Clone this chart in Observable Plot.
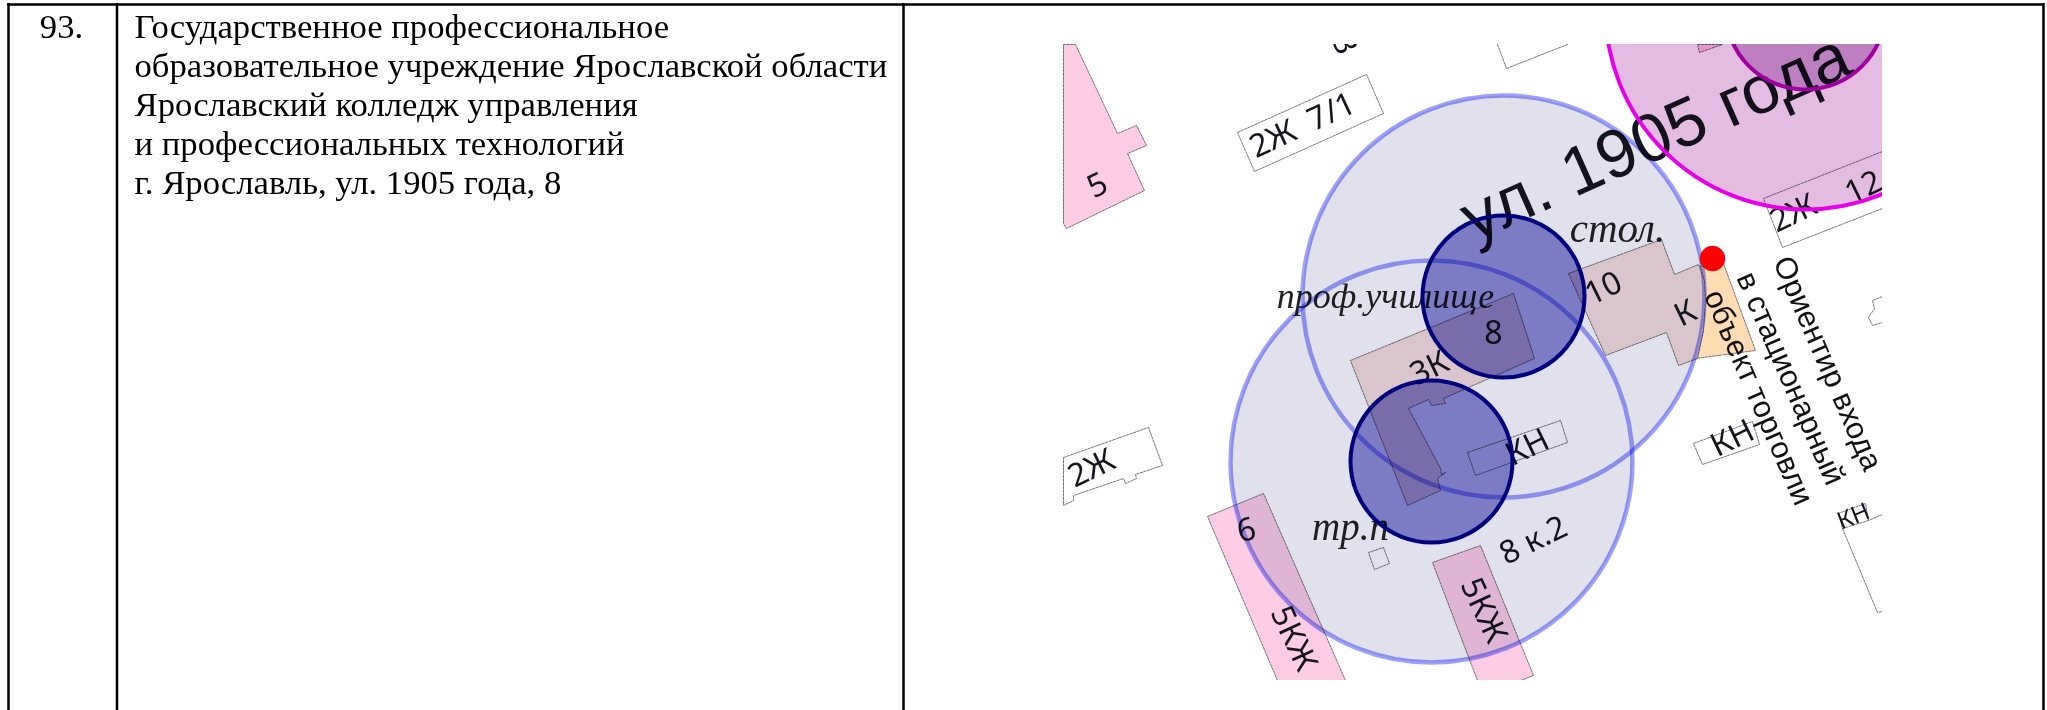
<!DOCTYPE html>
<html lang="ru">
<head>
<meta charset="utf-8">
<style>html,body{margin:0;padding:0;background:#fff;overflow:hidden}svg{display:block}</style>
<script src="https://cdn.jsdelivr.net/npm/d3@7"></script>
<script src="https://cdn.jsdelivr.net/npm/@observablehq/plot@0.6"></script>
</head>
<body>
<script>
// table
const tableColumnsX = [8, 116.5, 903, 2043];
const tableTopY = [4];
const rowNumber = [{x: 61, y: 26, t: "93."}];
const descriptionLines = [
  {x: 134, y: 26, t: "Государственное профессиональное"},
  {x: 134, y: 65, t: "образовательное учреждение Ярославской области"},
  {x: 134, y: 104, t: "Ярославский колледж управления"},
  {x: 134, y: 143, t: "и профессиональных технологий"},
  {x: 134, y: 182, t: "г. Ярославль, ул. 1905 года, 8"}
];

// buildings: outlines
const pinkBuildings = [
  [[1063,44],[1075,44],[1117,133],[1136,125],[1146,145],[1127,153],[1144,190],[1066,228],[1063,223]],
  [[1207,516],[1263,493],[1345,680],[1277,680]],
  [[1432,562],[1480,545],[1533,675],[1520,680],[1477,680]],
  [[1697,44],[1722,44],[1699,52]]
];
const orangeBuildings = [
  [[1698,266],[1723,263],[1755,350],[1695,358]]
];
const beigeBuildings = [
  [[1568,273],[1661,239],[1674,274],[1698,264],[1704,280],[1705,300],[1703,330],[1697,358],[1678,365],[1666,332],[1605,355]],
  [[1350,360],[1513,293],[1534,358],[1443,398],[1445,403],[1431,405],[1428,399],[1408,408],[1440,468],[1441,474],[1445,472],[1437,478],[1440,490],[1407,505]]
];
const whiteBuildings = [
  [[1237,132],[1366,74],[1383,113],[1254,171]],
  [[1467,452],[1560,420],[1567,442],[1475,475]],
  [[1693,443],[1752,421],[1759,444],[1702,464]],
  [[1368,552],[1383,547],[1389,563],[1374,569]],
  [[1063,457],[1148,427],[1162,465],[1135,474],[1136,478],[1125,483],[1123,478],[1073,495],[1073,500],[1063,505]],
  [[1882,151],[1763,198],[1782,247],[1882,208]]
];
const openOutlines = [
  [[1497,44],[1506,68],[1567,44]],
  [[1838,513],[1865,503],[1868,520],[1882,514]],
  [[1838,513],[1842,528],[1868,520]],
  [[1842,528],[1877,612],[1882,611]],
  [[1882,296],[1872,300],[1874,308],[1868,317],[1872,325],[1882,322]]
];

// zones
const largeBlueZones = [{x: 1503, y: 296}, {x: 1431, y: 461}];
const smallBlueZones = [{x: 1503, y: 296}, {x: 1431, y: 461}];
const largeMagentaZones = [{x: 1805, y: 9}];
const smallMagentaZones = [{x: 1805, y: 9}];
const entrancePoint = [{x: 1712, y: 258}];

// map labels
const houseLabels = [
  {x: 1097, y: 185, r: -26, t: "5"},
  {x: 1302, y: 125, r: -25, t: "2Ж\u00a0\u00a07/1"},
  {x: 1344, y: 44, r: 68, t: "3"},
  {x: 1603, y: 288, r: -26, t: "10"},
  {x: 1685, y: 313, r: -26, t: "К"},
  {x: 1493, y: 333, r: 0, t: "8"},
  {x: 1429, y: 368, r: -26, t: "3К"},
  {x: 1527, y: 447, r: -26, t: "КН"},
  {x: 1732, y: 438, r: -26, t: "КН"},
  {x: 1091, y: 468, r: -26, t: "2Ж"},
  {x: 1246, y: 530, r: -15, t: "6"},
  {x: 1293, y: 638, r: 65, t: "5КЖ"},
  {x: 1483, y: 610, r: 65, t: "5КЖ"},
  {x: 1533, y: 540, r: -26, t: "8 к.2"},
  {x: 1793, y: 213, r: -26, t: "2Ж"},
  {x: 1863, y: 187, r: -26, t: "12"}
];
const smallHouseLabels = [{x: 1853, y: 516, r: -22, t: "КН"}];
const streetLabel = [{x: 1655, y: 137, r: -24, t: "ул. 1905 года"}];
const italicLabels = [
  {x: 1617, y: 228, s: 41, t: "стол."},
  {x: 1385, y: 296, s: 36, t: "проф.училище"},
  {x: 1350, y: 527, s: 39, t: "тр.п"}
];
const entranceNote = [
  {x: 1827, y: 363, t: "Ориентир входа"},
  {x: 1790, y: 378, t: "в стационарный"},
  {x: 1758, y: 397, t: "объект торговли"}
];

// white area around the cropped map
const mapSurround = [
  {x1: 905, x2: 2047, y1: 0, y2: 44},
  {x1: 905, x2: 2047, y1: 680, y2: 710},
  {x1: 905, x2: 1063, y1: 0, y2: 710},
  {x1: 1882, x2: 2047, y1: 0, y2: 710}
];

const asPoints = (shapes) => shapes.flatMap((s, id) => s.map(([x, y]) => ({x, y, id})));
const outlineStyle = {stroke: "#555", strokeWidth: 0.8, strokeDasharray: "2.5,1.2"};
const buildings = (shapes, fill) => Plot.line(asPoints(shapes), {
  x: "x", y: "y", z: "id", curve: "linear-closed", fill, ...outlineStyle
});
// the whole mark is blended at once, so that overlapping zones keep one flat tint
const blendedAsOne = {
  render(index, scales, values, dimensions, context, next) {
    const g = next(index, scales, values, dimensions, context);
    g.style.mixBlendMode = "multiply";
    return g;
  }
};

const sans = "Liberation Sans", serif = "Liberation Serif", house = "Noto Sans";

const chart = Plot.plot({
  width: 2047, height: 710, margin: 0,
  x: {domain: [0, 2047], range: [0, 2047], axis: null},
  y: {domain: [0, 710], range: [0, 710], axis: null},
  style: {background: "#fff"},
  marks: [
    buildings(pinkBuildings, "#ffcce6"),
    buildings(orangeBuildings, "#ffdcb4"),
    buildings(beigeBuildings, "#f8e0dc"),
    buildings(whiteBuildings, "#fff"),
    Plot.line(asPoints(openOutlines), {x: "x", y: "y", z: "id", fill: "none", ...outlineStyle}),

    Plot.text(houseLabels, {x: "x", y: "y", text: "t", rotate: "r", fontFamily: house, fontSize: 32, fill: "#15151f", lineAnchor: "middle"}),
    Plot.text(smallHouseLabels, {x: "x", y: "y", text: "t", rotate: "r", fontFamily: house, fontSize: 24, fill: "#15151f", lineAnchor: "middle"}),
    Plot.text(italicLabels, {x: "x", y: "y", text: "t", fontSize: "s", fontFamily: serif, fontStyle: "italic", fill: "#222", lineAnchor: "middle"}),
    Plot.text(streetLabel, {x: "x", y: "y", text: "t", rotate: "r", fontFamily: sans, fontSize: 68, fill: "#15151f", lineAnchor: "middle"}),

    Plot.dot(largeBlueZones, {x: "x", y: "y", r: 201, fill: "#e0e1ec", ...blendedAsOne}),
    Plot.dot(smallBlueZones, {x: "x", y: "y", r: 81, fill: "#8d8cd4", ...blendedAsOne}),
    Plot.dot(largeBlueZones, {x: "x", y: "y", r: 201, stroke: "#9ea1ff", strokeWidth: 4.5, mixBlendMode: "multiply"}),
    Plot.dot(smallBlueZones, {x: "x", y: "y", r: 81, stroke: "#00007f", strokeWidth: 4}),

    Plot.dot(largeMagentaZones, {x: "x", y: "y", r: 200, fill: "#e4bce2", ...blendedAsOne}),
    Plot.dot(smallMagentaZones, {x: "x", y: "y", r: 80, fill: "#d3acd8", ...blendedAsOne}),
    Plot.dot(largeMagentaZones, {x: "x", y: "y", r: 200, stroke: "#e800e8", strokeWidth: 4}),
    Plot.dot(smallMagentaZones, {x: "x", y: "y", r: 80, stroke: "#a000a0", strokeWidth: 4}),

    Plot.text(entranceNote, {x: "x", y: "y", text: "t", rotate: 66.5, fontFamily: sans, fontSize: 30.5, fill: "#111", lineAnchor: "middle"}),
    Plot.dot(entrancePoint, {x: "x", y: "y", r: 12.5, fill: "#f00", stroke: "#c01010", strokeWidth: 0.6}),

    Plot.rect(mapSurround, {x1: "x1", x2: "x2", y1: "y1", y2: "y2", fill: "#fff"}),

    Plot.ruleX(tableColumnsX, {y1: 3, y2: 710, stroke: "#000", strokeWidth: 2.5}),
    Plot.ruleY(tableTopY, {x1: 7, x2: 2044, stroke: "#000", strokeWidth: 2.5}),
    Plot.text(rowNumber, {x: "x", y: "y", text: "t", fontFamily: serif, fontSize: 34.7, fill: "#000", lineAnchor: "middle"}),
    Plot.text(descriptionLines, {x: "x", y: "y", text: "t", textAnchor: "start", fontFamily: serif, fontSize: 34.7, fill: "#000", lineAnchor: "middle"})
  ]
});
document.body.appendChild(chart);
</script>
</body>
</html>
